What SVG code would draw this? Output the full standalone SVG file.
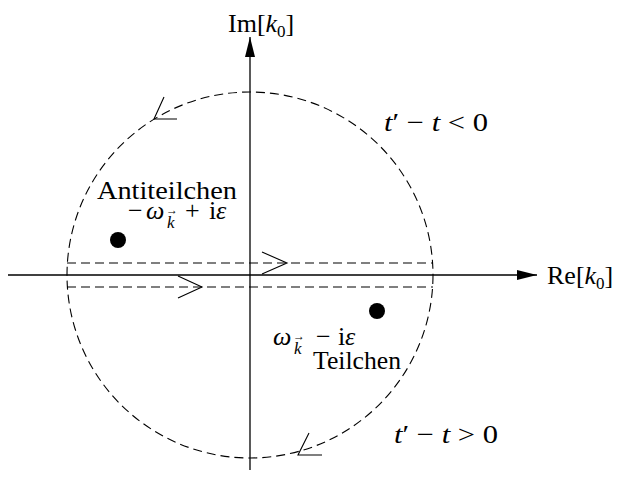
<svg xmlns="http://www.w3.org/2000/svg" width="621" height="497" viewBox="0 0 621 497">
<style>
.ax{stroke:#000;stroke-width:1.3;fill:none}
.dash{stroke:#000;stroke-width:1.1;fill:none;stroke-dasharray:9,5}
.arr{stroke:#000;stroke-width:1.1;fill:none}
text{font-family:"Liberation Serif","Times New Roman",serif;font-size:26px;fill:#000}
.it{font-style:italic}
.sub{font-size:17px}
.vec{font-size:12px}
</style>
<defs>
<marker id="ah" viewBox="0 0 20 10" refX="20" refY="5" markerWidth="20" markerHeight="10" markerUnits="userSpaceOnUse" orient="auto">
<path d="M0,0 L20,5 L0,10 Z" fill="#000"/>
</marker>
</defs>
<g id="connectors">
<line class="ax" x1="8" y1="275" x2="537" y2="275" marker-end="url(#ah)"/>
<line class="ax" x1="250" y1="470" x2="250" y2="37" marker-end="url(#ah)"/>
<circle class="dash" cx="250" cy="275" r="183"/>
<line class="dash" x1="67" y1="263" x2="433" y2="263"/>
<line class="dash" x1="67" y1="287" x2="433" y2="287"/>
<polyline class="arr" points="262,252 287,263 262,274"/>
<polyline class="arr" points="178,276 202,287 178,298"/>
<polyline class="arr" points="164,97 154,119 177,119"/>
<polyline class="arr" points="309,433 298,455 322,455"/>
</g>
<g id="pole-anti">
<circle cx="118" cy="240" r="8" fill="#000"/>
<text x="97" y="199" textLength="140" lengthAdjust="spacingAndGlyphs">Antiteilchen</text>
<text x="128" y="219">−</text>
<text x="146" y="219" class="it">ω</text>
<text x="167" y="228" class="it sub">k</text>
<text x="166" y="214" class="vec">→</text>
<text x="185" y="219">+</text>
<text x="209" y="219">i</text>
<text x="216" y="219" class="it">ε</text>
</g>
<g id="pole-teil">
<circle cx="377" cy="311" r="8" fill="#000"/>
<text x="273" y="345" class="it">ω</text>
<text x="294" y="354" class="it sub">k</text>
<text x="293" y="340" class="vec">→</text>
<text x="316" y="345">−</text>
<text x="338" y="345">i</text>
<text x="345" y="345" class="it">ε</text>
<text x="313" y="369" textLength="88" lengthAdjust="spacingAndGlyphs">Teilchen</text>
</g>
<g id="label-im">
<text x="228" y="32">Im[<tspan class="it">k</tspan><tspan class="sub" dy="5">0</tspan><tspan dy="-5">]</tspan></text>
</g>
<g id="label-re">
<text x="547" y="284">Re[<tspan class="it">k</tspan><tspan class="sub" dy="5">0</tspan><tspan dy="-5">]</tspan></text>
</g>
<g id="label-neg">
<text x="384" y="131" textLength="104" lengthAdjust="spacingAndGlyphs"><tspan class="it">t</tspan>′ − <tspan class="it">t</tspan> &lt; 0</text>
</g>
<g id="label-pos">
<text x="394" y="443" textLength="104" lengthAdjust="spacingAndGlyphs"><tspan class="it">t</tspan>′ − <tspan class="it">t</tspan> &gt; 0</text>
</g>
</svg>
